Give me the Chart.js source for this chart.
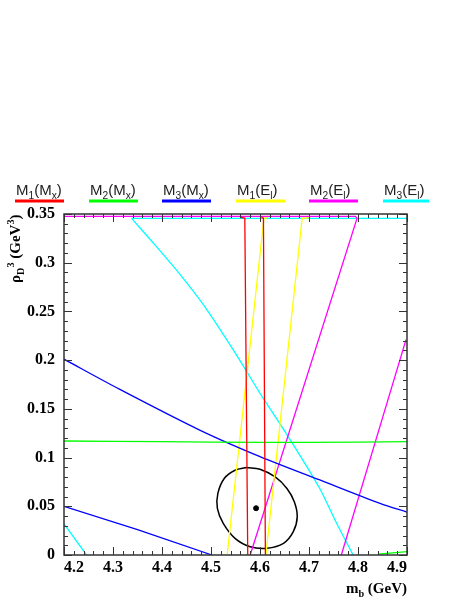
<!DOCTYPE html>
<html>
<head>
<meta charset="utf-8">
<script src="https://cdn.jsdelivr.net/npm/chart.js@4/dist/chart.umd.min.js"></script>
<style>
  html, body { margin: 0; padding: 0; background: #fff; }
  canvas { display: block; }
</style>
</head>
<body>
<canvas id="chart" width="463" height="599"></canvas>
<script>
// axis ranges / ticks
const xRange = [4.2, 4.9];
const yRange = [0, 0.35];
const xStep = 0.1;
const yStep = 0.05;

// legend
const legendNames = ['M_1(M_x)', 'M_2(M_x)', 'M_3(M_x)', 'M_1(E_l)', 'M_2(E_l)', 'M_3(E_l)'];
const legendColors = ['#ff0000', '#00ff00', '#0000ff', '#ffff00', '#ff00ff', '#00ffff'];

// contour lines, [m_b, rho_D^3]
const m1MxA = [[4.559, 0.3465], [4.569, 0.3458], [4.575, 0]];
const m1MxB = [[4.603, 0.3465], [4.607, 0.3458], [4.611, 0]];
const m2MxA = [[4.2, 0.1170], [4.4, 0.1163], [4.6, 0.1156], [4.8, 0.1158], [4.9, 0.1163]];
const m2MxB = [[4.841, 0.001], [4.9, 0.0035]];
const m3MxA = [[4.2, 0.201], [4.314, 0.170], [4.478, 0.128], [4.6, 0.101], [4.722, 0.077], [4.845, 0.053], [4.9, 0.044]];
const m3MxB = [[4.2, 0.050], [4.35, 0.026], [4.502, 0]];
const m1ElA = [[4.533, 0], [4.608, 0.3455], [4.616, 0.3462]];
const m1ElB = [[4.612, 0], [4.686, 0.3455], [4.702, 0.3462]];
const m2ElA = [[4.2, 0.3475], [4.795, 0.3475], [4.798, 0.3455], [4.580, 0]];
const m2ElB = [[4.766, 0], [4.898, 0.221]];
const m3ElTop = [[4.9, 0.3455], [4.338, 0.3455]];
const m3ElA = [[4.338, 0.3455], [4.386, 0.318], [4.44, 0.286], [4.49, 0.253], [4.55, 0.207],
               [4.60, 0.166], [4.657, 0.122], [4.72, 0.070], [4.753, 0.036], [4.790, 0]];
const m3ElB = [[4.2, 0.032], [4.246, 0]];

// fit ellipse and central value
const ellipse = [[4.573, 0.0898], [4.600, 0.0880], [4.631, 0.0801], [4.655, 0.0683], [4.670, 0.0546],
                 [4.676, 0.0392], [4.668, 0.0239], [4.648, 0.0120], [4.614, 0.0069], [4.580, 0.0085],
                 [4.549, 0.0171], [4.525, 0.0324], [4.513, 0.0478], [4.514, 0.0632], [4.527, 0.0785],
                 [4.549, 0.0870], [4.573, 0.0898]];
const bestFit = [[4.592, 0.048]];

// [points, colour index, smooth]
const curves = [
    [m1MxA, 0, 0], [m1MxB, 0, 0], [m2MxA, 1, 0.3], [m2MxB, 1, 0], [m3MxA, 2, 0.3], [m3MxB, 2, 0],
    [m1ElA, 3, 0], [m1ElB, 3, 0], [m2ElA, 4, 0], [m2ElB, 4, 0],
    [m3ElTop, 5, 0], [m3ElA, 5, 0.3], [m3ElB, 5, 0]
];

const toPts = arr => arr.map(([x, y]) => ({ x, y }));

const datasets = curves.map(([arr, c, t]) => ({
    data: toPts(arr),
    showLine: true,
    borderColor: legendColors[c],
    borderWidth: 1.3,
    pointRadius: 0,
    tension: t
}));
datasets.push({
    data: toPts(ellipse),
    showLine: true,
    borderColor: '#000',
    borderWidth: 1.5,
    pointRadius: 0,
    tension: 0.35
});
datasets.push({
    data: toPts(bestFit),
    showLine: false,
    pointRadius: 2.5,
    pointBackgroundColor: '#000',
    pointBorderColor: '#000'
});

// text with _x subscript and ^x superscript
function drawRich(ctx, text, x, y, size, family, weight, measureOnly) {
    let cx = x;
    for (let i = 0; i < text.length; i++) {
        let ch = text[i];
        let s = size, dy = 0;
        if (ch === '_' || ch === '^') {
            dy = ch === '_' ? size * 0.28 : -size * 0.42;
            s = size * 0.68;
            ch = text[++i];
        }
        ctx.font = weight + ' ' + s + 'px ' + family;
        if (!measureOnly) ctx.fillText(ch, cx, y + dy);
        cx += ctx.measureText(ch).width;
    }
    return cx - x;
}

const decor = {
    id: 'decor',
    afterDraw(chart) {
        const { ctx, chartArea: a, scales: { x, y } } = chart;
        ctx.save();

        // frame
        ctx.strokeStyle = '#333';
        ctx.lineWidth = 1.5;
        ctx.strokeRect(a.left, a.top, a.right - a.left, a.bottom - a.top);

        // inward ticks on all four sides
        ctx.lineWidth = 1;
        ctx.beginPath();
        const nx = Math.round((xRange[1] - xRange[0]) / 0.02);
        for (let i = 0; i <= nx; i++) {
            const px = Math.round(x.getPixelForValue(xRange[0] + i * 0.02)) + 0.5;
            const len = i % 5 === 0 ? 8 : 4;
            ctx.moveTo(px, a.bottom); ctx.lineTo(px, a.bottom - len);
            ctx.moveTo(px, a.top); ctx.lineTo(px, a.top + len);
        }
        const ny = Math.round((yRange[1] - yRange[0]) / 0.01);
        for (let i = 0; i <= ny; i++) {
            const py = Math.round(y.getPixelForValue(yRange[0] + i * 0.01)) + 0.5;
            const len = i % 5 === 0 ? 8 : 4;
            ctx.moveTo(a.left, py); ctx.lineTo(a.left + len, py);
            ctx.moveTo(a.right, py); ctx.lineTo(a.right - len, py);
        }
        ctx.stroke();

        // legend
        const legendX = [15, 89, 162, 236, 309, 383];
        legendNames.forEach((name, i) => {
            ctx.fillStyle = '#222';
            ctx.textBaseline = 'alphabetic';
            drawRich(ctx, name, legendX[i] + 1, 195, 15, "'Liberation Sans', Arial, sans-serif", 'normal');
            ctx.fillStyle = legendColors[i];
            ctx.fillRect(legendX[i], 199.5, i === 5 ? 46 : 49, 3);
        });

        // axis titles
        ctx.fillStyle = '#000';
        const serif = "'Liberation Serif', 'Times New Roman', serif";
        const xt = 'm_b (GeV)';
        const w = drawRich(ctx, xt, 0, 0, 15, serif, 'bold', true);
        drawRich(ctx, xt, a.right - w, 593, 15, serif, 'bold');

        ctx.save();
        ctx.translate(20, 283);
        ctx.rotate(-Math.PI / 2);
        drawRich(ctx, 'ρ_D^3 (GeV^3)', 0, 0, 15, serif, 'bold');
        ctx.restore();

        ctx.restore();
    }
};

new Chart(document.getElementById('chart'), {
    type: 'scatter',
    data: { datasets },
    options: {
        responsive: false,
        animation: false,
        devicePixelRatio: 1,
        layout: { padding: { top: 214, right: 56, left: 0, bottom: 0 } },
        plugins: { legend: { display: false }, tooltip: { enabled: false } },
        scales: {
            x: {
                type: 'linear',
                min: xRange[0],
                max: xRange[1],
                grid: { display: false, drawTicks: false },
                border: { display: false },
                afterFit: s => { s.height = 44; },
                ticks: {
                    stepSize: xStep,
                    padding: 3,
                    align: 'inner',
                    color: '#000',
                    font: { family: "'Liberation Serif', 'Times New Roman', serif", size: 16, weight: 'bold' },
                    callback: v => v.toFixed(1)
                }
            },
            y: {
                type: 'linear',
                min: yRange[0],
                max: yRange[1],
                grid: { display: false, drawTicks: false },
                border: { display: false },
                afterFit: s => { s.width = 64; },
                ticks: {
                    stepSize: yStep,
                    padding: 9,
                    color: '#000',
                    font: { family: "'Liberation Serif', 'Times New Roman', serif", size: 16, weight: 'bold' },
                    callback: v => String(parseFloat(v.toFixed(2)))
                }
            }
        }
    },
    plugins: [decor]
});
</script>
</body>
</html>
